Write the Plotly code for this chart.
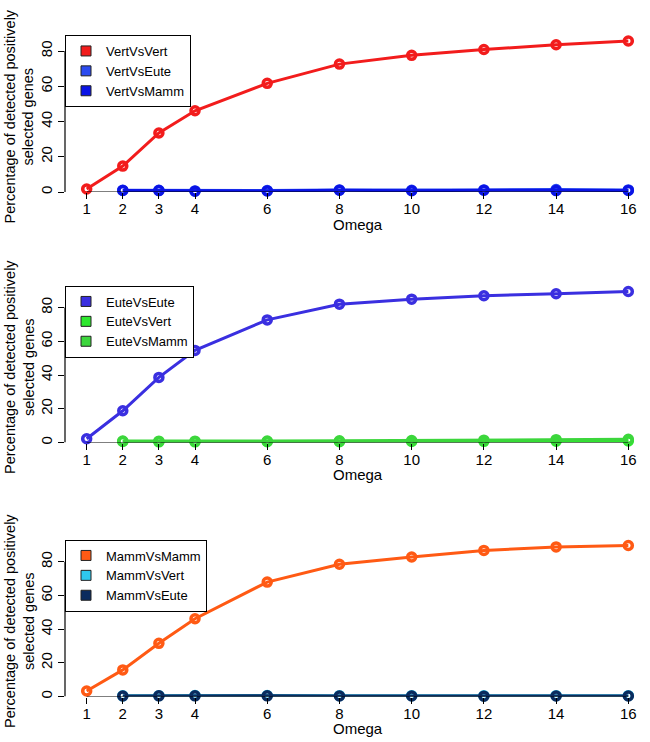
import plotly.graph_objects as go
from plotly.subplots import make_subplots

# Omega values on the x axis
omega = [1, 2, 3, 4, 6, 8, 10, 12, 14, 16]
omega_cross = [2, 3, 4, 6, 8, 10, 12, 14, 16]
y_ticks = [0, 20, 40, 60, 80]

# Panel 1: Vert
vert_vs_vert = [1.7, 14.7, 33.5, 46.1, 61.7, 72.6, 77.6, 80.9, 83.6, 85.7]
vert_vs_eute = [1.0, 1.0, 0.6, 0.8, 1.2, 1.0, 1.2, 1.4, 1.2]
vert_vs_mamm = [0.9, 0.8, 0.4, 0.6, 1.0, 0.7, 1.0, 0.8, 0.9]

# Panel 2: Eute
eute_vs_eute = [2.2, 18.8, 38.6, 54.6, 72.7, 82.0, 85.0, 87.0, 88.2, 89.5]
eute_vs_vert = [0.6, 0.4, 0.4, 0.5, 0.5, 0.6, 0.7, 0.8, 0.9]
eute_vs_mamm = [0.9, 0.8, 0.8, 0.9, 1.0, 1.2, 1.4, 1.7, 1.9]

# Panel 3: Mamm
mamm_vs_mamm = [3.3, 15.8, 31.6, 46.2, 68.0, 78.6, 82.9, 86.8, 88.9, 89.7]
mamm_vs_vert = [0.4, 0.5, 0.6, 0.6, 0.5, 0.5, 0.4, 0.5, 0.5]
mamm_vs_eute = [0.3, 0.4, 0.4, 0.4, 0.3, 0.3, 0.2, 0.3, 0.3]

panels = [
    [("VertVsVert", omega, vert_vs_vert, "#F21C1C"),
     ("VertVsEute", omega_cross, vert_vs_eute, "#2B4BF0"),
     ("VertVsMamm", omega_cross, vert_vs_mamm, "#0A14E6")],
    [("EuteVsEute", omega, eute_vs_eute, "#3A2FE0"),
     ("EuteVsVert", omega_cross, eute_vs_vert, "#2EE82E"),
     ("EuteVsMamm", omega_cross, eute_vs_mamm, "#3CD63C")],
    [("MammVsMamm", omega, mamm_vs_mamm, "#FF5A14"),
     ("MammVsVert", omega_cross, mamm_vs_vert, "#2EC8EE"),
     ("MammVsEute", omega_cross, mamm_vs_eute, "#0B2B5E")],
]

W, H = 650, 742
L = 65
# pixel row of y=0 for each panel and plot height
zero_px = [192, 442.5, 696.5]
plot_h = 157

FONT = "Liberation Sans, Arial, Helvetica, sans-serif"
Y_TITLE = "Percentage of detected positively<br>selected genes"

fig = make_subplots(rows=3, cols=1)

for i, series in enumerate(panels):
    row = i + 1
    leg = "legend" if i == 0 else f"legend{i + 1}"
    ymax = max(max(s[2]) for s in series)
    for name, xs, ys, color in series:
        fig.add_trace(go.Scatter(
            x=xs, y=ys, mode="lines+markers", name=name,
            line=dict(color=color, width=3),
            marker=dict(symbol="circle-open", size=8, color=color, line=dict(width=3.5, color=color)),
            cliponaxis=False, showlegend=False,
        ), row=row, col=1)
    # legend-only entries with filled squares
    for name, xs, ys, color in series:
        fig.add_trace(go.Scatter(
            x=[None], y=[None], mode="markers", name=name,
            marker=dict(symbol="square", size=10, color=color, line=dict(width=1, color="#222222")),
            legend=leg, showlegend=True,
        ), row=row, col=1)

    top = zero_px[i] - plot_h
    dom = [1 - zero_px[i] / H, 1 - top / H]
    sfx = "" if i == 0 else str(i + 1)

    fig.update_xaxes(
        domain=[0, 1], automargin=False,
        range=[0.4, 16.6], tickvals=omega, ticks="outside", ticklen=6, tickwidth=1,
        tickcolor="black", showline=False, showgrid=False, zeroline=False,
        ticklabelstandoff=-3,
        tickfont=dict(size=15, color="black", family=FONT),
        row=row, col=1,
    )
    fig.update_yaxes(
        domain=dom, automargin=False, range=[0, 1.04 * ymax], tickvals=y_ticks,
        ticks="outside", ticklen=6, tickwidth=1, tickcolor="black", tickangle=-90,
        showline=False, showgrid=False, zeroline=False, ticklabelstandoff=0,
        tickfont=dict(size=15, color="black", family=FONT),
        row=row, col=1,
    )

    # axis titles as annotations so they sit where R puts them
    fig.add_annotation(
        text="Omega", showarrow=False,
        xref=f"x{sfx} domain", yref=f"y{sfx} domain", x=0.5, y=0, yshift=-32,
        xanchor="center", yanchor="middle",
        font=dict(size=15, color="black", family=FONT),
    )
    fig.add_annotation(
        text=Y_TITLE, textangle=-90, showarrow=False,
        xref="paper", yref=f"y{sfx} domain", x=(19 - L) / (W - L), y=0.5, yshift=-3,
        xanchor="center", yanchor="middle",
        font=dict(size=14.5, color="black", family=FONT),
    )

    # R-style axis lines spanning only the tick range
    fig.add_shape(type="line", xref=f"x{sfx}", yref=f"y{sfx}",
                  x0=min(omega), x1=max(omega), y0=0, y1=0,
                  line=dict(color="black", width=1.2))
    fig.add_shape(type="line", xref=f"x{sfx} domain", yref=f"y{sfx}",
                  x0=0, x1=0, y0=min(y_ticks), y1=max(y_ticks),
                  line=dict(color="black", width=1.2))

    fig.update_layout({leg: dict(
        x=0, y=dom[1], xanchor="left", yanchor="top",
        bordercolor="black", borderwidth=1, bgcolor="white",
        font=dict(size=13, color="black", family=FONT),
        itemwidth=30, tracegroupgap=0,
    )})

fig.update_layout(
    width=W, height=H,
    margin=dict(l=L, r=0, t=0, b=0),
    paper_bgcolor="white", plot_bgcolor="white",
    font=dict(family=FONT, color="black"),
    showlegend=True,
)

# drop the default body margin so the figure fills the 650x742 window
fig.write_html("out.html", config={"displayModeBar": False},
               post_script="document.body.style.margin = '0';")
